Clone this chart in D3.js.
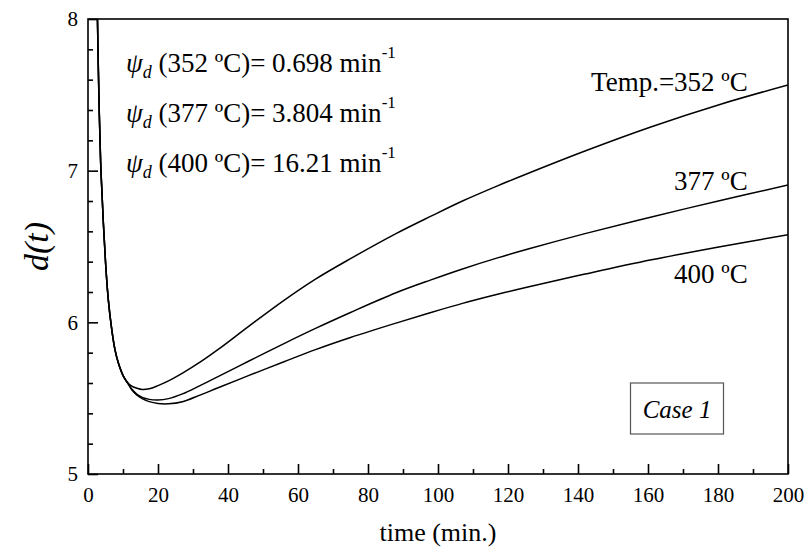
<!DOCTYPE html>
<html>
<head>
<meta charset="utf-8">
<script src="https://cdn.jsdelivr.net/npm/d3@7"></script>
<style>
  body { margin: 0; background: #fff; }
  svg { display: block; font-family: "Liberation Serif", "Times New Roman", serif; }
</style>
</head>
<body>
<svg width="806" height="549"></svg>
<script>
// time (min.) sampled along the curves
const times = [2.7, 3.2, 3.7, 4.4, 5.05, 5.8, 6.8, 7.7, 8.7, 10.1, 11.2, 12.5, 14, 15.5, 17.5, 20, 23, 27, 32, 37, 46, 56, 65, 75, 88, 98, 107, 117, 126, 142, 161, 181, 200];
const d352 = [8.0, 7.4, 7.0, 6.65, 6.38, 6.15, 5.95, 5.82, 5.73, 5.645, 5.605, 5.58, 5.565, 5.557, 5.562, 5.583, 5.614, 5.665, 5.737, 5.818, 5.975, 6.145, 6.285, 6.42, 6.585, 6.7, 6.8, 6.9, 6.985, 7.13, 7.29, 7.44, 7.565];
const d377 = [8.0, 7.4, 7.0, 6.65, 6.38, 6.15, 5.95, 5.82, 5.73, 5.645, 5.605, 5.56, 5.525, 5.505, 5.492, 5.488, 5.497, 5.528, 5.583, 5.64, 5.745, 5.86, 5.96, 6.065, 6.195, 6.28, 6.352, 6.425, 6.485, 6.585, 6.695, 6.805, 6.905];
const d400 = [8.0, 7.4, 7.0, 6.65, 6.38, 6.15, 5.95, 5.82, 5.73, 5.645, 5.605, 5.555, 5.52, 5.497, 5.477, 5.465, 5.463, 5.477, 5.52, 5.567, 5.65, 5.74, 5.82, 5.9, 5.995, 6.065, 6.125, 6.185, 6.235, 6.318, 6.412, 6.5, 6.578];

const curveLabels = ['Temp.=352 ºC', '377 ºC', '400 ºC'];
const psiTemps = ['352 ºC', '377 ºC', '400 ºC'];
const psiValues = ['0.698', '3.804', '16.21'];
const xTicks = [0, 20, 40, 60, 80, 100, 120, 140, 160, 180, 200];
const yTicks = [5, 6, 7, 8];

const FONT = '"Liberation Serif", "Times New Roman", serif';
const svg = d3.select('svg');
const m = {left: 88, top: 19, right: 18, bottom: 75};
const W = 806 - m.left - m.right;
const H = 549 - m.top - m.bottom;

const scX = d3.scaleLinear().domain([0, 200]).range([0, W]);
const scY = d3.scaleLinear().domain([5, 8]).range([H, 0]);

const g = svg.append('g').attr('transform', 'translate(' + m.left + ',' + m.top + ')');

g.append('clipPath').attr('id', 'clip')
  .append('rect').attr('width', W).attr('height', H);

// minor ticks
g.append('g').attr('transform', 'translate(0,' + H + ')')
  .call(d3.axisBottom(scX).tickValues(d3.range(10, 200, 20)).tickSizeInner(-5).tickSizeOuter(0).tickFormat(''));
g.append('g')
  .call(d3.axisLeft(scY).tickValues(d3.range(5.2, 8, 0.2).filter(v => Math.abs(v - Math.round(v)) > 0.05)).tickSizeInner(-5).tickSizeOuter(0).tickFormat(''));

// major ticks
g.append('g').attr('transform', 'translate(0,' + H + ')')
  .call(d3.axisBottom(scX).tickValues(xTicks).tickSizeInner(-10).tickSizeOuter(0).tickPadding(13));
g.append('g')
  .call(d3.axisLeft(scY).tickValues(yTicks).tickSizeInner(-10).tickSizeOuter(0).tickPadding(10).tickFormat(d3.format('d')));

g.selectAll('.tick line').attr('stroke', '#000').attr('stroke-width', 1.6);
g.selectAll('.domain').remove();
g.selectAll('.tick text').attr('font-size', 21).attr('font-family', FONT).attr('fill', '#000');

// frame
g.append('rect').attr('width', W).attr('height', H)
  .attr('fill', 'none').attr('stroke', '#000').attr('stroke-width', 1.6);

const line = d3.line().curve(d3.curveCatmullRom.alpha(0.5))
  .x((d, i) => scX(times[i])).y(d => scY(d));

[d352, d377, d400].forEach(s => {
  g.append('path').attr('clip-path', 'url(#clip)')
    .attr('fill', 'none').attr('stroke', '#000').attr('stroke-width', 1.5)
    .attr('d', line(s));
});

// curve labels
const labelY = [7.527, 6.873, 6.257];
curveLabels.forEach((t, i) => {
  g.append('text').attr('x', scX(188.5)).attr('y', scY(labelY[i]))
    .attr('text-anchor', 'end').attr('font-size', 27).attr('font-family', FONT).text(t);
});

// psi annotations
psiTemps.forEach((t, i) => {
  const txt = g.append('text').attr('x', 38).attr('y', 53 + i * 50)
    .attr('font-size', 27).attr('font-family', FONT);
  txt.append('tspan').attr('font-style', 'italic').text('ψ');
  txt.append('tspan').attr('font-style', 'italic').attr('font-size', 18).attr('dy', 6).text('d');
  txt.append('tspan').attr('dy', -6).text(' (' + t + ')= ' + psiValues[i] + ' min');
  txt.append('tspan').attr('font-size', 17).attr('dy', -14).text('-1');
});

// Case 1 box
g.append('rect').attr('x', scX(155)).attr('y', scY(5.6)).attr('width', 93).attr('height', 51)
  .attr('fill', 'none').attr('stroke', '#555').attr('stroke-width', 1.2);
g.append('text').attr('x', scX(155) + 46.5).attr('y', scY(5.6) + 35)
  .attr('text-anchor', 'middle').attr('font-size', 25).attr('font-style', 'italic')
  .attr('font-family', FONT).text('Case 1');

// axis titles
svg.append('text').attr('x', m.left + W / 2).attr('y', 541)
  .attr('text-anchor', 'middle').attr('font-size', 26).attr('font-family', FONT).text('time (min.)');
svg.append('text').attr('transform', 'translate(48,' + (m.top + scY(6.5)) + ') rotate(-90)')
  .attr('text-anchor', 'middle').attr('font-size', 34).attr('font-style', 'italic')
  .attr('font-family', FONT).text('d(t)');
</script>
</body>
</html>
